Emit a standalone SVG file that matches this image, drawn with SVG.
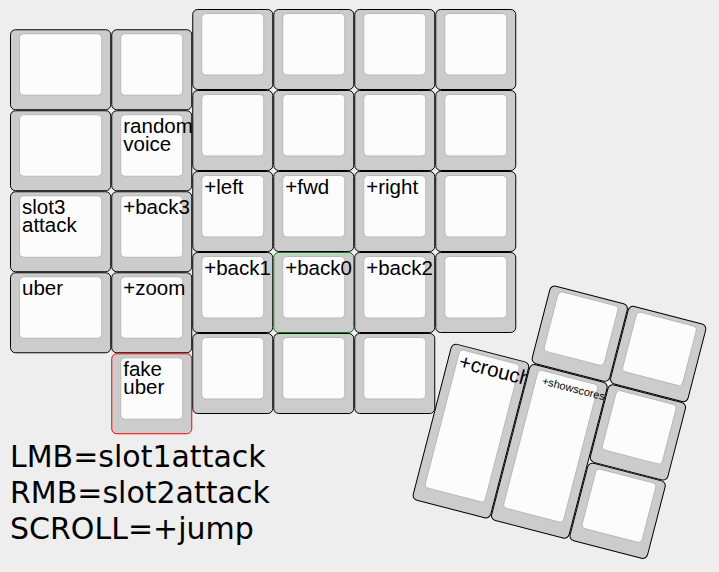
<svg xmlns="http://www.w3.org/2000/svg" width="719" height="572" viewBox="0 0 719 572">
<style>
.o{fill:#cccccc;stroke:#000;stroke-width:1}
.i{fill:#fcfcfc;stroke:#b8b8b8;stroke-width:1}
.g{stroke:#008000}
.r{stroke:#ff0000}
.t{font-family:"Liberation Sans",Arial,sans-serif;font-size:20.5px;fill:#000}
.s{font-family:"Liberation Sans",Arial,sans-serif;font-size:11px;fill:#000}
.b{font-family:"DejaVu Sans",sans-serif;font-size:30px;fill:#000}
</style>
<rect x="0" y="0" width="719" height="572" fill="#eeeeee"/>
<g id="keys-left">
<g id="k-l00" transform="translate(10,29.25)"><rect class="o" x="0.5" y="0.5" width="100.25" height="80" rx="5"/><rect class="i" x="9.5" y="4.5" width="82.25" height="61.5" rx="4"/></g>
<g id="k-l01" transform="translate(111.25,29.25)"><rect class="o" x="0.5" y="0.5" width="80" height="80" rx="5"/><rect class="i" x="9.5" y="4.5" width="62" height="61.5" rx="4"/></g>
<g id="k-l10" transform="translate(10,110.25)"><rect class="o" x="0.5" y="0.5" width="100.25" height="80" rx="5"/><rect class="i" x="9.5" y="4.5" width="82.25" height="61.5" rx="4"/></g>
<g id="k-l11" transform="translate(111.25,110.25)"><rect class="o" x="0.5" y="0.5" width="80" height="80" rx="5"/><rect class="i" x="9.5" y="4.5" width="62" height="61.5" rx="4"/><text class="t" x="12" y="23">random<tspan x="12" y="40.5">voice</tspan></text></g>
<g id="k-l20" transform="translate(10,191.25)"><rect class="o" x="0.5" y="0.5" width="100.25" height="80" rx="5"/><rect class="i" x="9.5" y="4.5" width="82.25" height="61.5" rx="4"/><text class="t" x="12" y="23">slot3<tspan x="12" y="40.5">attack</tspan></text></g>
<g id="k-l21" transform="translate(111.25,191.25)"><rect class="o" x="0.5" y="0.5" width="80" height="80" rx="5"/><rect class="i" x="9.5" y="4.5" width="62" height="61.5" rx="4"/><text class="t" x="12" y="23">+back3</text></g>
<g id="k-l30" transform="translate(10,272.25)"><rect class="o" x="0.5" y="0.5" width="100.25" height="80" rx="5"/><rect class="i" x="9.5" y="4.5" width="82.25" height="61.5" rx="4"/><text class="t" x="12" y="23">uber</text></g>
<g id="k-l31" transform="translate(111.25,272.25)"><rect class="o" x="0.5" y="0.5" width="80" height="80" rx="5"/><rect class="i" x="9.5" y="4.5" width="62" height="61.5" rx="4"/><text class="t" x="12" y="23">+zoom</text></g>
<g id="k-l41" transform="translate(111.25,353.25)"><rect class="o r" x="0.5" y="0.5" width="80" height="80" rx="5"/><rect class="i" x="9.5" y="4.5" width="62" height="61.5" rx="4"/><text class="t" x="12" y="23">fake<tspan x="12" y="41">uber</tspan></text></g>
</g>
<g id="keys-grid">
<g id="k-00" transform="translate(192.25,9)"><rect class="o" x="0.5" y="0.5" width="80" height="80" rx="5"/><rect class="i" x="9.5" y="4.5" width="62" height="61.5" rx="4"/></g>
<g id="k-01" transform="translate(273.25,9)"><rect class="o" x="0.5" y="0.5" width="80" height="80" rx="5"/><rect class="i" x="9.5" y="4.5" width="62" height="61.5" rx="4"/></g>
<g id="k-02" transform="translate(354.25,9)"><rect class="o" x="0.5" y="0.5" width="80" height="80" rx="5"/><rect class="i" x="9.5" y="4.5" width="62" height="61.5" rx="4"/></g>
<g id="k-03" transform="translate(435.25,9)"><rect class="o" x="0.5" y="0.5" width="80" height="80" rx="5"/><rect class="i" x="9.5" y="4.5" width="62" height="61.5" rx="4"/></g>
<g id="k-10" transform="translate(192.25,90)"><rect class="o" x="0.5" y="0.5" width="80" height="80" rx="5"/><rect class="i" x="9.5" y="4.5" width="62" height="61.5" rx="4"/></g>
<g id="k-11" transform="translate(273.25,90)"><rect class="o" x="0.5" y="0.5" width="80" height="80" rx="5"/><rect class="i" x="9.5" y="4.5" width="62" height="61.5" rx="4"/></g>
<g id="k-12" transform="translate(354.25,90)"><rect class="o" x="0.5" y="0.5" width="80" height="80" rx="5"/><rect class="i" x="9.5" y="4.5" width="62" height="61.5" rx="4"/></g>
<g id="k-13" transform="translate(435.25,90)"><rect class="o" x="0.5" y="0.5" width="80" height="80" rx="5"/><rect class="i" x="9.5" y="4.5" width="62" height="61.5" rx="4"/></g>
<g id="k-20" transform="translate(192.25,171)"><rect class="o" x="0.5" y="0.5" width="80" height="80" rx="5"/><rect class="i" x="9.5" y="4.5" width="62" height="61.5" rx="4"/><text class="t" x="12" y="23">+left</text></g>
<g id="k-21" transform="translate(273.25,171)"><rect class="o" x="0.5" y="0.5" width="80" height="80" rx="5"/><rect class="i" x="9.5" y="4.5" width="62" height="61.5" rx="4"/><text class="t" x="12" y="23">+fwd</text></g>
<g id="k-22" transform="translate(354.25,171)"><rect class="o" x="0.5" y="0.5" width="80" height="80" rx="5"/><rect class="i" x="9.5" y="4.5" width="62" height="61.5" rx="4"/><text class="t" x="12" y="23">+right</text></g>
<g id="k-23" transform="translate(435.25,171)"><rect class="o" x="0.5" y="0.5" width="80" height="80" rx="5"/><rect class="i" x="9.5" y="4.5" width="62" height="61.5" rx="4"/></g>
<g id="k-30" transform="translate(192.25,252)"><rect class="o" x="0.5" y="0.5" width="80" height="80" rx="5"/><rect class="i" x="9.5" y="4.5" width="62" height="61.5" rx="4"/><text class="t" x="12" y="23">+back1</text></g>
<g id="k-31" transform="translate(273.25,252)"><rect class="o g" x="0.5" y="0.5" width="80" height="80" rx="5"/><rect class="i" x="9.5" y="4.5" width="62" height="61.5" rx="4"/><text class="t" x="12" y="23">+back0</text></g>
<g id="k-32" transform="translate(354.25,252)"><rect class="o" x="0.5" y="0.5" width="80" height="80" rx="5"/><rect class="i" x="9.5" y="4.5" width="62" height="61.5" rx="4"/><text class="t" x="12" y="23">+back2</text></g>
<g id="k-33" transform="translate(435.25,252)"><rect class="o" x="0.5" y="0.5" width="80" height="80" rx="5"/><rect class="i" x="9.5" y="4.5" width="62" height="61.5" rx="4"/></g>
<g id="k-40" transform="translate(192.25,333)"><rect class="o" x="0.5" y="0.5" width="80" height="80" rx="5"/><rect class="i" x="9.5" y="4.5" width="62" height="61.5" rx="4"/></g>
<g id="k-41" transform="translate(273.25,333)"><rect class="o" x="0.5" y="0.5" width="80" height="80" rx="5"/><rect class="i" x="9.5" y="4.5" width="62" height="61.5" rx="4"/></g>
<g id="k-42" transform="translate(354.25,333)"><rect class="o" x="0.5" y="0.5" width="80" height="80" rx="5"/><rect class="i" x="9.5" y="4.5" width="62" height="61.5" rx="4"/></g>
</g>
<g id="keys-thumb" transform="translate(452,342.5) rotate(14.5)">
<g id="k-t0" transform="translate(81,-81)"><rect class="o" x="0.5" y="0.5" width="80" height="80" rx="5"/><rect class="i" x="9.5" y="4.5" width="62" height="61.5" rx="4"/></g>
<g id="k-t1" transform="translate(162,-81)"><rect class="o" x="0.5" y="0.5" width="80" height="80" rx="5"/><rect class="i" x="9.5" y="4.5" width="62" height="61.5" rx="4"/></g>
<g id="k-t2" transform="translate(0,0)"><rect class="o" x="0.5" y="0.5" width="80" height="161" rx="5"/><rect class="i" x="9.5" y="4.5" width="62" height="142.5" rx="4"/><text class="t" x="12" y="23">+crouch</text></g>
<g id="k-t3" transform="translate(81,0)"><rect class="o" x="0.5" y="0.5" width="80" height="161" rx="5"/><rect class="i" x="9.5" y="4.5" width="62" height="142.5" rx="4"/><text class="s" x="16" y="18">+showscores</text></g>
<g id="k-t4" transform="translate(162,0)"><rect class="o" x="0.5" y="0.5" width="80" height="80" rx="5"/><rect class="i" x="9.5" y="4.5" width="62" height="61.5" rx="4"/></g>
<g id="k-t5" transform="translate(162,81)"><rect class="o" x="0.5" y="0.5" width="80" height="80" rx="5"/><rect class="i" x="9.5" y="4.5" width="62" height="61.5" rx="4"/></g>
</g>
<g id="legend">
<text class="b" x="10" y="467">LMB=slot1attack</text>
<text class="b" x="10" y="503">RMB=slot2attack</text>
<text class="b" x="10" y="539">SCROLL=+jump</text>
</g>
</svg>
